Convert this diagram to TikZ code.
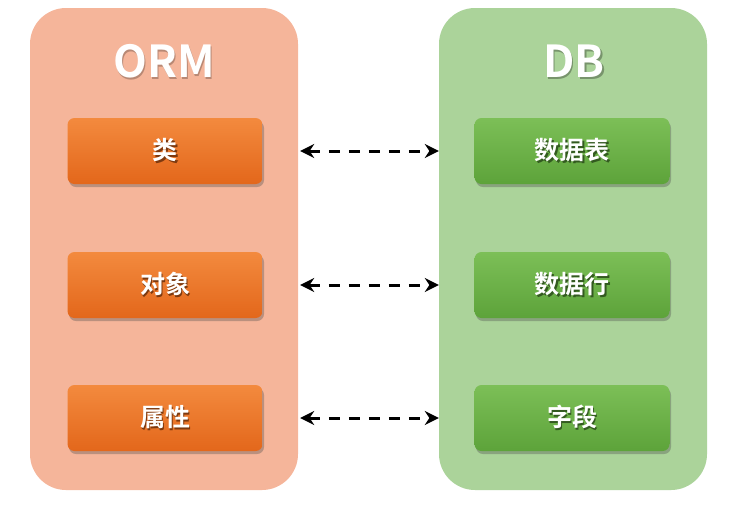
\documentclass[tikz,border=0pt]{standalone}
\usepackage{fontspec}
\setmainfont{Noto Sans CJK SC}[BoldFont=* Bold]
\usetikzlibrary{shadows,arrows.meta}

\definecolor{ormpanel}{HTML}{F5B59A}
\definecolor{dbpanel}{HTML}{ABD39A}
\definecolor{ormtop}{HTML}{F38A3E}
\definecolor{ormbot}{HTML}{E3671B}
\definecolor{dbtop}{HTML}{7CBF57}
\definecolor{dbbot}{HTML}{5DA33A}

% text with a darker copy set slightly below and to the right of it
\newcommand{\shadowedtext}[2]{%
  \makebox[0pt][l]{\hspace*{1.5pt}\raisebox{-2pt}{\textcolor{#1}{#2}}}%
  \textcolor{white}{#2}}

\tikzset{
  panel/.style={rounded corners=36pt, minimum width=268pt, minimum height=482pt, inner sep=0pt},
  itembox/.style={rounded corners=7pt, minimum width=195pt, minimum height=66pt, inner sep=0pt,
    drop shadow={shadow xshift=1.5pt, shadow yshift=-3pt, opacity=0.35, fill=black!70}},
  ormitem/.style={itembox, top color=ormtop, bottom color=ormbot},
  dbitem/.style={itembox, top color=dbtop, bottom color=dbbot},
  title/.style={font=\bfseries\fontsize{44}{48}\selectfont},
  label/.style={font=\bfseries\fontsize{25}{28}\selectfont},
  link/.style={line width=3pt, dash pattern=on 11pt off 9pt,
    {Stealth[length=14pt,width=14pt]}-{Stealth[length=14pt,width=14pt]}}
}

\begin{document}
\begin{tikzpicture}[x=1pt, y=-1pt]
  \useasboundingbox (0,0) rectangle (735,507);

  % the two columns
  \node[panel, fill=ormpanel] (orm) at (164,249) {};
  \node[panel, fill=dbpanel]  (db)  at (573,249) {};

  % column headings
  \node[title] (ormtitle) at (164,62) {\shadowedtext{ormpanel!75!black}{ORM}};
  \node[title] (dbtitle)  at (574,62) {\shadowedtext{dbpanel!70!black}{DB}};

  % ORM side
  \node[ormitem, label] (cls)  at (165,151) {\shadowedtext{ormbot!55!black}{类}};
  \node[ormitem, label] (obj)  at (165,285) {\shadowedtext{ormbot!55!black}{对象}};
  \node[ormitem, label] (attr) at (165,418) {\shadowedtext{ormbot!55!black}{属性}};
  % DB side
  \node[dbitem, label] (tbl) at (572,151) {\shadowedtext{dbbot!55!black}{数据表}};
  \node[dbitem, label] (row) at (572,285) {\shadowedtext{dbbot!55!black}{数据行}};
  \node[dbitem, label] (fld) at (572,418) {\shadowedtext{dbbot!55!black}{字段}};

  % correspondences
  \draw[link] (orm.east |- cls) ++(2,0) coordinate (c1) -- (db.west |- tbl);
  \draw[link] (orm.east |- obj) ++(2,0) coordinate (c2) -- (db.west |- row);
  \draw[link] (orm.east |- attr) ++(2,0) coordinate (c3) -- (db.west |- fld);
\end{tikzpicture}
\end{document}
